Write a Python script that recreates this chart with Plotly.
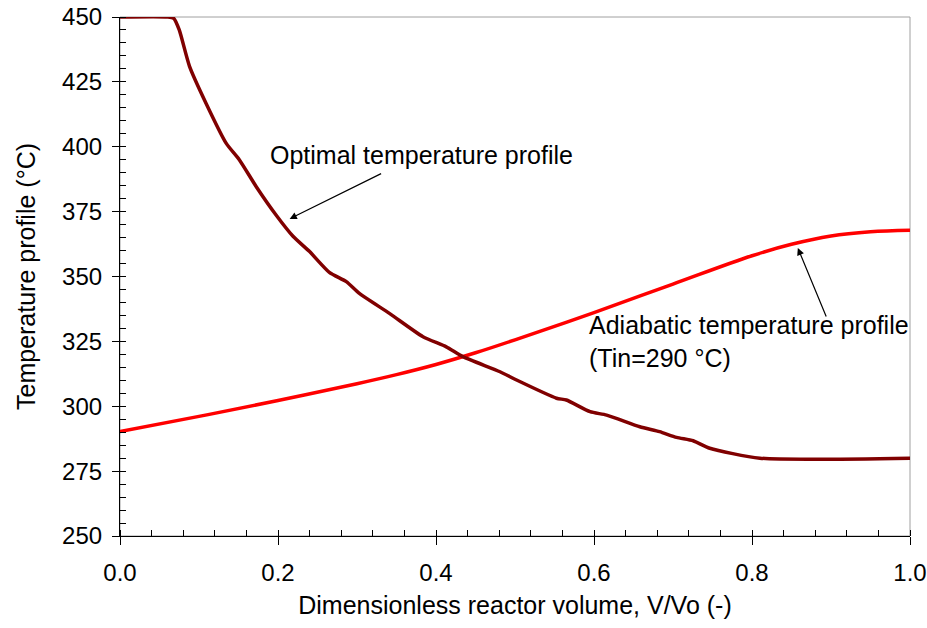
import plotly.graph_objects as go

# Optimal temperature profile
opt_x = [0.0, 0.06, 0.068, 0.075, 0.088, 0.109, 0.1345, 0.151, 0.1725, 0.198, 0.219,
         0.24, 0.265, 0.2865, 0.303, 0.341, 0.3835, 0.413, 0.434, 0.481, 0.502,
         0.5525, 0.565, 0.595, 0.616, 0.658, 0.683, 0.7045, 0.7255, 0.7465, 0.81, 1.0]
opt_y = [450.0, 450.0, 449.5, 445.0, 431.0, 416.7, 401.3, 395.0, 384.6, 373.5, 365.5,
         359.6, 351.6, 348.0, 343.5, 335.8, 326.8, 322.9, 319.1, 313.3, 310.1,
         303.1, 302.4, 297.9, 296.6, 292.1, 290.2, 288.0, 286.7, 283.8, 280.0, 280.0]

# Adiabatic temperature profile (Tin = 290 °C)
adi_x = [0.0, 0.1, 0.2, 0.3, 0.35, 0.4, 0.45, 0.5, 0.6, 0.7, 0.8, 0.85, 0.9, 0.95, 1.0]
adi_y = [290.3, 296.1, 302.2, 308.7, 312.2, 316.1, 320.6, 325.6, 336.1, 347.1, 358.0,
         362.4, 365.6, 367.2, 367.8]

x_ticks = [0.0, 0.2, 0.4, 0.6, 0.8, 1.0]
y_ticks = [250, 275, 300, 325, 350, 375, 400, 425, 450]

FONT = "Arial, Liberation Sans, sans-serif"

fig = go.Figure()
fig.add_trace(go.Scatter(x=adi_x, y=adi_y, mode="lines",
                         line=dict(color="#FF0000", width=3.5, shape="spline"),
                         showlegend=False, hoverinfo="skip"))
fig.add_trace(go.Scatter(x=opt_x, y=opt_y, mode="lines",
                         line=dict(color="#800000", width=3.5, shape="spline", smoothing=0.6),
                         showlegend=False, hoverinfo="skip"))

# frame (top/right)
fig.add_shape(type="rect", xref="paper", yref="paper", x0=0, y0=0, x1=1, y1=1,
              line=dict(color="#A0A0A0", width=1), layer="below")

# arrows
fig.add_annotation(x=0.2147, y=372.2, ax=93, ay=-46, xref="x", yref="y",
                   showarrow=True, arrowhead=2, arrowsize=1.2, arrowwidth=1.2,
                   arrowcolor="black", text="")
fig.add_annotation(x=0.858, y=361.0, ax=29, ay=70, xref="x", yref="y",
                   showarrow=True, arrowhead=2, arrowsize=1.2, arrowwidth=1.2,
                   arrowcolor="black", text="")

# labels
fig.add_annotation(x=0.1868, y=396.8, xref="x", yref="y", showarrow=False,
                   text="Optimal temperature profile", xanchor="left", yanchor="middle",
                   font=dict(family=FONT, size=25, color="black"))
fig.add_annotation(x=0.5909, y=324.9, xref="x", yref="y", showarrow=False,
                   text="Adiabatic temperature profile<br>(Tin=290 °C)",
                   xanchor="left", yanchor="middle", align="left",
                   font=dict(family=FONT, size=25, color="black"))

fig.update_layout(
    width=927, height=628,
    margin=dict(l=120, r=17, t=17, b=92),
    paper_bgcolor="white", plot_bgcolor="white",
    font=dict(family=FONT, size=24, color="black"),
)
fig.update_xaxes(
    range=[0, 1], tickvals=x_ticks, tickformat=".1f", automargin=False,
    ticklabeloverflow="allow",
    showgrid=False, zeroline=False,
    showline=True, linecolor="black", linewidth=1.2,
    ticks="outside", ticklen=8, tickwidth=1.2, tickcolor="black",
    ticklabelstandoff=7,
    minor=dict(dtick=0.04, tick0=0, ticks="inside", ticklen=6, tickwidth=1.2, tickcolor="black", showgrid=False),
    title=dict(text="Dimensionless reactor volume, V/Vo (-)", font=dict(size=25), standoff=11),
)
fig.update_yaxes(
    range=[250, 450], tickvals=y_ticks, automargin=False,
    ticklabeloverflow="allow",
    showgrid=False, zeroline=False,
    showline=True, linecolor="black", linewidth=1.2,
    ticks="outside", ticklen=7, tickwidth=1.2, tickcolor="black",
    ticklabelstandoff=5,
    minor=dict(dtick=5, tick0=250, ticks="inside", ticklen=6, tickwidth=1.2, tickcolor="black", showgrid=False),
    title=dict(text="Temperature profile (°C)", font=dict(size=25), standoff=19),
)

fig.write_html("out.html", config={"displayModeBar": False},
               post_script="document.body.style.margin='0';document.body.style.overflow='hidden';")
